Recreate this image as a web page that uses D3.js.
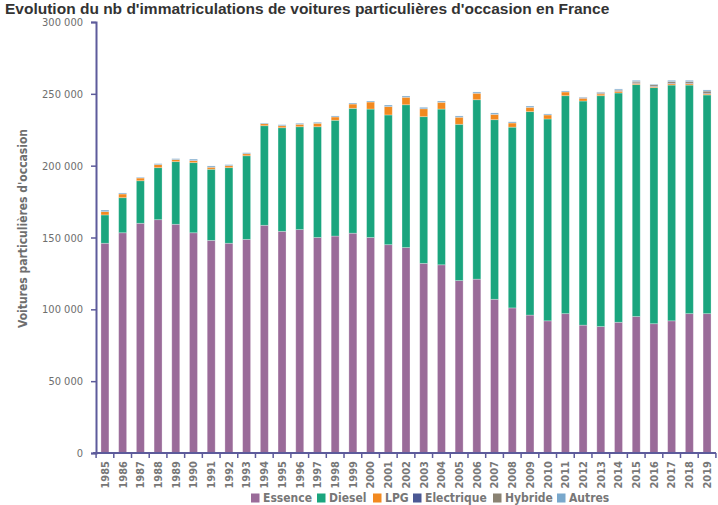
<!DOCTYPE html>
<html><head><meta charset="utf-8">
<script src="https://cdn.jsdelivr.net/npm/d3@7"></script>
<style>
html,body{margin:0;padding:0;background:#fff;overflow:hidden;}
svg{display:block;}
</style></head>
<body>
<svg id="chart" width="718" height="505"></svg>
<script>
const title = "Evolution du nb d'immatriculations de voitures particulières d'occasion en France";
const yAxisTitle = "Voitures particulières d'occasion";
const years = [1985,1986,1987,1988,1989,1990,1991,1992,1993,1994,1995,1996,1997,1998,1999,2000,2001,2002,2003,2004,2005,2006,2007,2008,2009,2010,2011,2012,2013,2014,2015,2016,2017,2018,2019];
const seriesNames = ["Essence","Diesel","LPG","Electrique","Hybride","Autres"];
const seriesColors = ["#9a6b99","#1aa57e","#f2891f","#4b5894","#8a8272","#79a8cc"];
const essence = [146000,153300,159900,162400,159200,153300,148000,146000,148700,158500,154300,155500,150000,151000,153000,150000,145000,143000,132000,131000,120000,121000,107000,101000,96000,92000,97000,89000,88000,91000,95000,90000,92000,97000,97000];
const diesel = [19700,24400,29600,36200,43600,48800,49500,52600,58200,69300,72100,71600,77100,80600,86900,89400,90300,99400,102100,108400,108800,124900,125000,125800,141600,140500,151700,156000,160700,159600,161400,164300,164100,159100,152200];
const lpg = [2300,2600,1900,2100,1400,1400,1400,1400,1400,1400,1400,1700,2400,2300,3000,4900,5800,5200,5500,4700,4900,4500,3700,2900,3000,2800,2600,1900,1200,1200,900,700,900,900,700];
const electrique = [0,0,0,0,0,300,0,0,0,0,0,0,0,0,0,0,0,0,0,0,0,0,0,0,0,0,0,300,300,300,400,400,400,400,500];
const hybride = [0,0,0,0,0,0,0,0,0,0,0,0,0,0,0,0,0,0,0,0,0,0,0,0,0,0,0,300,800,600,1000,1000,1100,1100,1500];
const autres = [1100,700,500,700,700,800,900,700,700,500,700,700,700,700,700,700,1100,900,1000,900,900,900,1000,800,900,700,700,300,300,700,700,400,900,900,800];
const yTicks = [0,50000,100000,150000,200000,250000,300000];

const svg = d3.select("#chart");
const margin = {left:96, right:2, top:22, bottom:52};
const W = 718, H = 505;
const x = d3.scaleBand().domain(years).range([margin.left, W - margin.right]).paddingInner(0.55).paddingOuter(0.28);
const y = d3.scaleLinear().domain([0,300000]).range([H - margin.bottom, margin.top]);

const rows = years.map((yr,i)=>({year:yr, Essence:essence[i], Diesel:diesel[i], LPG:lpg[i], Electrique:electrique[i], Hybride:hybride[i], Autres:autres[i]}));
const stack = d3.stack().keys(seriesNames)(rows);
const color = d3.scaleOrdinal().domain(seriesNames).range(seriesColors);

// title
svg.append("text").attr("x",5).attr("y",14)
  .attr("font-family","Liberation Sans, Arial, sans-serif").attr("font-weight","bold")
  .attr("font-size",15.5).attr("fill","#333").text(title);

// bars
svg.append("g").selectAll("g").data(stack).join("g")
  .attr("fill", d=>color(d.key))
  .selectAll("rect").data(d=>d).join("rect")
  .attr("x", d=>x(d.data.year))
  .attr("width", x.bandwidth())
  .attr("y", d=>y(d[1]))
  .attr("height", d=>Math.max(0, y(d[0]) - y(d[1])))
  .attr("stroke","#ffffff").attr("stroke-opacity",0.35).attr("stroke-width",0.8);

const axisColor = "#5d5b9b";
const labelFont = "DejaVu Sans Condensed, DejaVu Sans, sans-serif";

// y axis
const yAxis = svg.append("g").attr("transform",`translate(${margin.left},0)`)
  .call(d3.axisLeft(y).tickValues(yTicks).tickSize(5).tickPadding(8)
    .tickFormat(d=>d3.format(",")(d).replace(/,/g," ")));
yAxis.select(".domain").attr("stroke",axisColor).attr("stroke-width",2);
yAxis.selectAll(".tick line").attr("stroke",axisColor).attr("stroke-width",1.5);
yAxis.selectAll(".tick text").attr("font-family",labelFont).attr("font-size",11)
  .attr("fill","#6e6e6e");

// x axis
const xAxis = svg.append("g").attr("transform",`translate(0,${H - margin.bottom})`)
  .call(d3.axisBottom(x).tickSize(0).tickPadding(0));
xAxis.select(".domain").attr("stroke",axisColor).attr("stroke-width",2)
  .attr("d",`M${margin.left-3},0H${W - margin.right}`);
xAxis.selectAll(".tick text")
  .attr("transform","rotate(-90)")
  .attr("text-anchor","end").attr("x",-8).attr("y",0).attr("dy","0.35em")
  .attr("font-family",labelFont).attr("font-weight","bold").attr("font-size",11).attr("fill","#777");
// separator ticks at band boundaries
const step = x.step();
const bounds = years.map(yr => x(yr) - (step - x.bandwidth())/2).concat([x(years[years.length-1]) + x.bandwidth() + (step - x.bandwidth())/2]);
svg.append("g").selectAll("line").data(bounds).join("line")
  .attr("x1",d=>d).attr("x2",d=>d)
  .attr("y1",H - margin.bottom).attr("y2",H - margin.bottom + 5)
  .attr("stroke",axisColor).attr("stroke-width",1.5);

// y axis title
svg.append("text")
  .attr("transform",`translate(23,${(y(0)+y(300000))/2 - 9}) rotate(-90)`)
  .attr("text-anchor","middle").attr("dy","0.35em")
  .attr("font-family",labelFont).attr("font-weight","bold").attr("font-size",12)
  .attr("fill","#6e6e6e").text(yAxisTitle);

// legend
const legendX = [251,317,373,413,493,557];
const lg = svg.append("g").selectAll("g").data(seriesNames).join("g")
  .attr("transform",(d,i)=>`translate(${legendX[i]},498)`);
lg.append("rect").attr("x",0).attr("y",-4.5).attr("width",8.5).attr("height",9).attr("fill",d=>color(d));
lg.append("text").attr("x",12).attr("y",0).attr("dy","0.36em")
  .attr("font-family",labelFont).attr("font-weight","bold").attr("font-size",12)
  .attr("fill","#777").text(d=>d);
</script>
</body></html>
